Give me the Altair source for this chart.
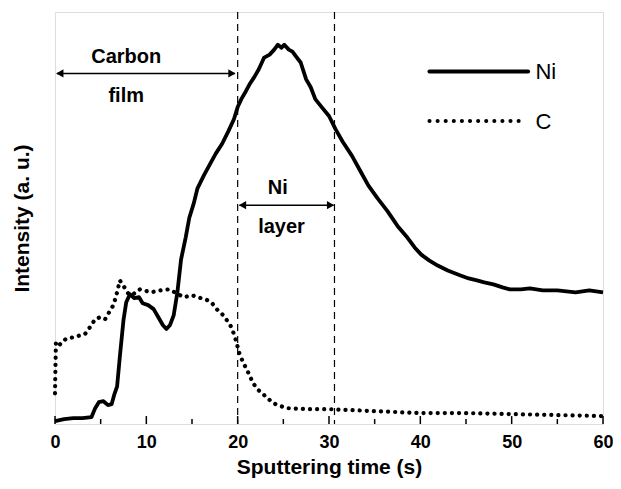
import altair as alt
import pandas as pd

# Ni signal (time s, intensity a.u.)
ni_t = [0, 0.5, 1, 2, 3, 4, 4.4, 4.8, 5.3, 5.8, 6.2, 6.5, 6.8, 7.1, 7.5, 7.8, 8.2, 8.7, 9.2, 9.6,
        10.2, 10.8, 11.3, 11.8, 12.2, 12.6, 13.0, 13.4, 13.8, 14.3, 14.7, 15.2, 15.6, 16.3, 17.0,
        17.6, 18.3, 19.0, 19.6, 20.0, 20.4, 20.9, 21.3, 21.8, 22.3, 22.9, 23.5, 24.0, 24.4, 24.8,
        25.1, 25.6, 26.0, 26.4, 26.9, 27.5, 28.0, 28.5, 29.2, 30.0, 30.7, 31.5, 32.5, 33.4, 34.3,
        35.3, 36.4, 37.5, 38.6, 39.4, 40.1, 41.0, 41.9, 43.0, 44.4, 45.3, 46.2, 47.0, 48.0, 49.0,
        49.8, 51.0, 52.0, 53.4, 55.0, 57.0, 58.5, 60.0]
ni_v = [3, 4, 5, 6, 6, 7, 16, 22, 23, 19, 20, 30, 38, 68, 105, 123, 131, 127, 128, 122,
        120, 116, 108, 100, 96, 100, 110, 133, 166, 188, 208, 223, 238, 251, 263,
        273, 283, 296, 308, 320, 328, 336, 343, 350, 358, 370, 373, 378, 383, 380,
        383, 378, 376, 371, 365, 348, 340, 328, 320, 311, 298, 285, 271, 256, 241,
        228, 215, 200, 188, 178, 171, 165, 160, 155, 150, 147, 145, 143, 141, 138,
        136, 136, 137, 135, 135, 133, 135, 133]

# C signal
c_t = [0, 0.05, 0.1, 0.5, 1.2, 2.2, 3.3, 4.0, 4.4, 5.0, 5.5, 6.0, 6.4, 6.8, 7.1, 7.6, 8.0, 8.4,
       9.3, 10.5, 11.6, 12.5, 13.3, 14.1, 15.0, 15.6, 16.5, 17.2, 17.7, 18.3, 18.8, 19.3, 19.7,
       20.2, 20.6, 21.0, 21.7, 22.3, 22.8, 23.9, 25.3, 27.8, 30.0, 35.0, 40.0, 45.0, 50.0, 55.0, 60.0]
c_v = [31, 58, 83, 80, 86, 88, 91, 100, 106, 108, 106, 114, 120, 133, 145, 138, 132, 130,
       136, 133, 135, 136, 132, 128, 130, 128, 126, 122, 116, 111, 105, 98, 88,
       71, 62, 55, 41, 34, 30, 21, 16, 15, 15, 13, 11, 11, 10, 9, 8]

# layer boundaries (dashed lines)
boundary_t = [20.0, 30.6]

# axis ticks
major_ticks = [0, 10, 20, 30, 40, 50, 60]
minor_ticks = [5, 15, 25, 35, 45, 55]

# annotations
ann_text = ["Carbon", "film", "Ni", "layer"]
ann_t = [7.8, 7.8, 24.4, 24.8]
ann_v = [371, 331, 238, 199]

arrow_t1 = [0.2, 20.2]
arrow_t2 = [19.7, 30.5]
arrow_v = [354, 221]

# legend
leg_names = ["Ni", "C"]
leg_t1 = [41.0, 41.0]
leg_t2 = [51.8, 51.6]
leg_v = [356, 306]
leg_label_t = [52.6, 52.6]

FONT = "Liberation Sans"

xs = alt.Scale(domain=[0, 60], nice=False, zero=False)
ys = alt.Scale(domain=[0, 416], nice=False, zero=False)
xaxis = alt.Axis(title="Sputtering time (s)", values=major_ticks, format="d", ticks=False, domain=False,
                 grid=False, labelFont=FONT, labelFontWeight="bold", labelFontSize=18, labelColor="black",
                 labelPadding=9, labelFlush=False, titleFont=FONT, titleFontWeight="bold",
                 titleFontSize=21, titleColor="black", titlePadding=5)
yaxis = alt.Axis(title="Intensity (a. u.)", labels=False, ticks=False, domain=False, grid=False,
                 titleFont=FONT, titleFontWeight="bold", titleFontSize=21, titleColor="black",
                 titlePadding=23)
X = alt.X("t:Q", scale=xs, axis=xaxis)
Y = alt.Y("v:Q", scale=ys, axis=yaxis)

ni_df = pd.DataFrame({"t": ni_t, "v": ni_v})
c_df = pd.DataFrame({"t": c_t, "v": c_v})

ni_line = alt.Chart(ni_df).mark_line(color="black", strokeWidth=3.8, strokeJoin="round").encode(x=X, y=Y)
c_line = alt.Chart(c_df).mark_line(color="black", strokeWidth=4.2, strokeCap="round",
                                   strokeDash=[0.1, 7]).encode(x=X, y=Y)

bnd = alt.Chart(pd.DataFrame({"t": boundary_t})).mark_rule(
    color="black", strokeWidth=1.2, strokeDash=[7, 5]).encode(x=X)

tick_df = pd.DataFrame({"t": major_ticks + minor_ticks,
                        "v": [0] * (len(major_ticks) + len(minor_ticks)),
                        "v2": [8] * len(major_ticks) + [5] * len(minor_ticks)})
ticks = alt.Chart(tick_df).mark_rule(color="black", strokeWidth=1.5).encode(x=X, y=Y, y2="v2:Q")

arr_df = pd.DataFrame({"t": arrow_t1, "t2": arrow_t2, "v": arrow_v})
arrows = alt.Chart(arr_df).mark_rule(color="black", strokeWidth=1.5).encode(x=X, x2="t2:Q", y=Y)
head_l = alt.Chart(pd.DataFrame({"t": arrow_t1, "v": arrow_v})).mark_point(
    shape="triangle-left", filled=True, color="black", size=70, opacity=1, xOffset=3).encode(x=X, y=Y)
head_r = alt.Chart(pd.DataFrame({"t": arrow_t2, "v": arrow_v})).mark_point(
    shape="triangle-right", filled=True, color="black", size=70, opacity=1, xOffset=-3).encode(x=X, y=Y)

ann = alt.Chart(pd.DataFrame({"t": ann_t, "v": ann_v, "s": ann_text})).mark_text(
    font=FONT, fontWeight="bold", fontSize=20, color="black", align="center", baseline="middle"
).encode(x=X, y=Y, text="s:N")

leg_df = pd.DataFrame({"t": leg_t1, "t2": leg_t2, "v": leg_v, "name": leg_names})
leg_ni = alt.Chart(leg_df[leg_df.name == "Ni"]).mark_rule(
    color="black", strokeWidth=4, strokeCap="round").encode(x=X, x2="t2:Q", y=Y)
leg_c = alt.Chart(leg_df[leg_df.name == "C"]).mark_rule(
    color="black", strokeWidth=4, strokeCap="round", strokeDash=[0.1, 8]).encode(x=X, x2="t2:Q", y=Y)
leg_lab = alt.Chart(pd.DataFrame({"t": leg_label_t, "v": leg_v, "s": leg_names})).mark_text(
    font=FONT, fontSize=22, color="black", align="left", baseline="middle", dy=1
).encode(x=X, y=Y, text="s:N")

chart = alt.layer(bnd, c_line, ni_line, ticks, arrows, head_l, head_r, ann, leg_ni, leg_c, leg_lab).properties(
    width=548, height=412,
    autosize=alt.AutoSizeParams(type="none"),
    padding={"left": 47, "top": 4, "right": 10, "bottom": 56},
).configure_view(stroke="black", strokeWidth=2).configure(background="white")

chart.save("out.html", embed_options={"renderer": "svg", "actions": False})
